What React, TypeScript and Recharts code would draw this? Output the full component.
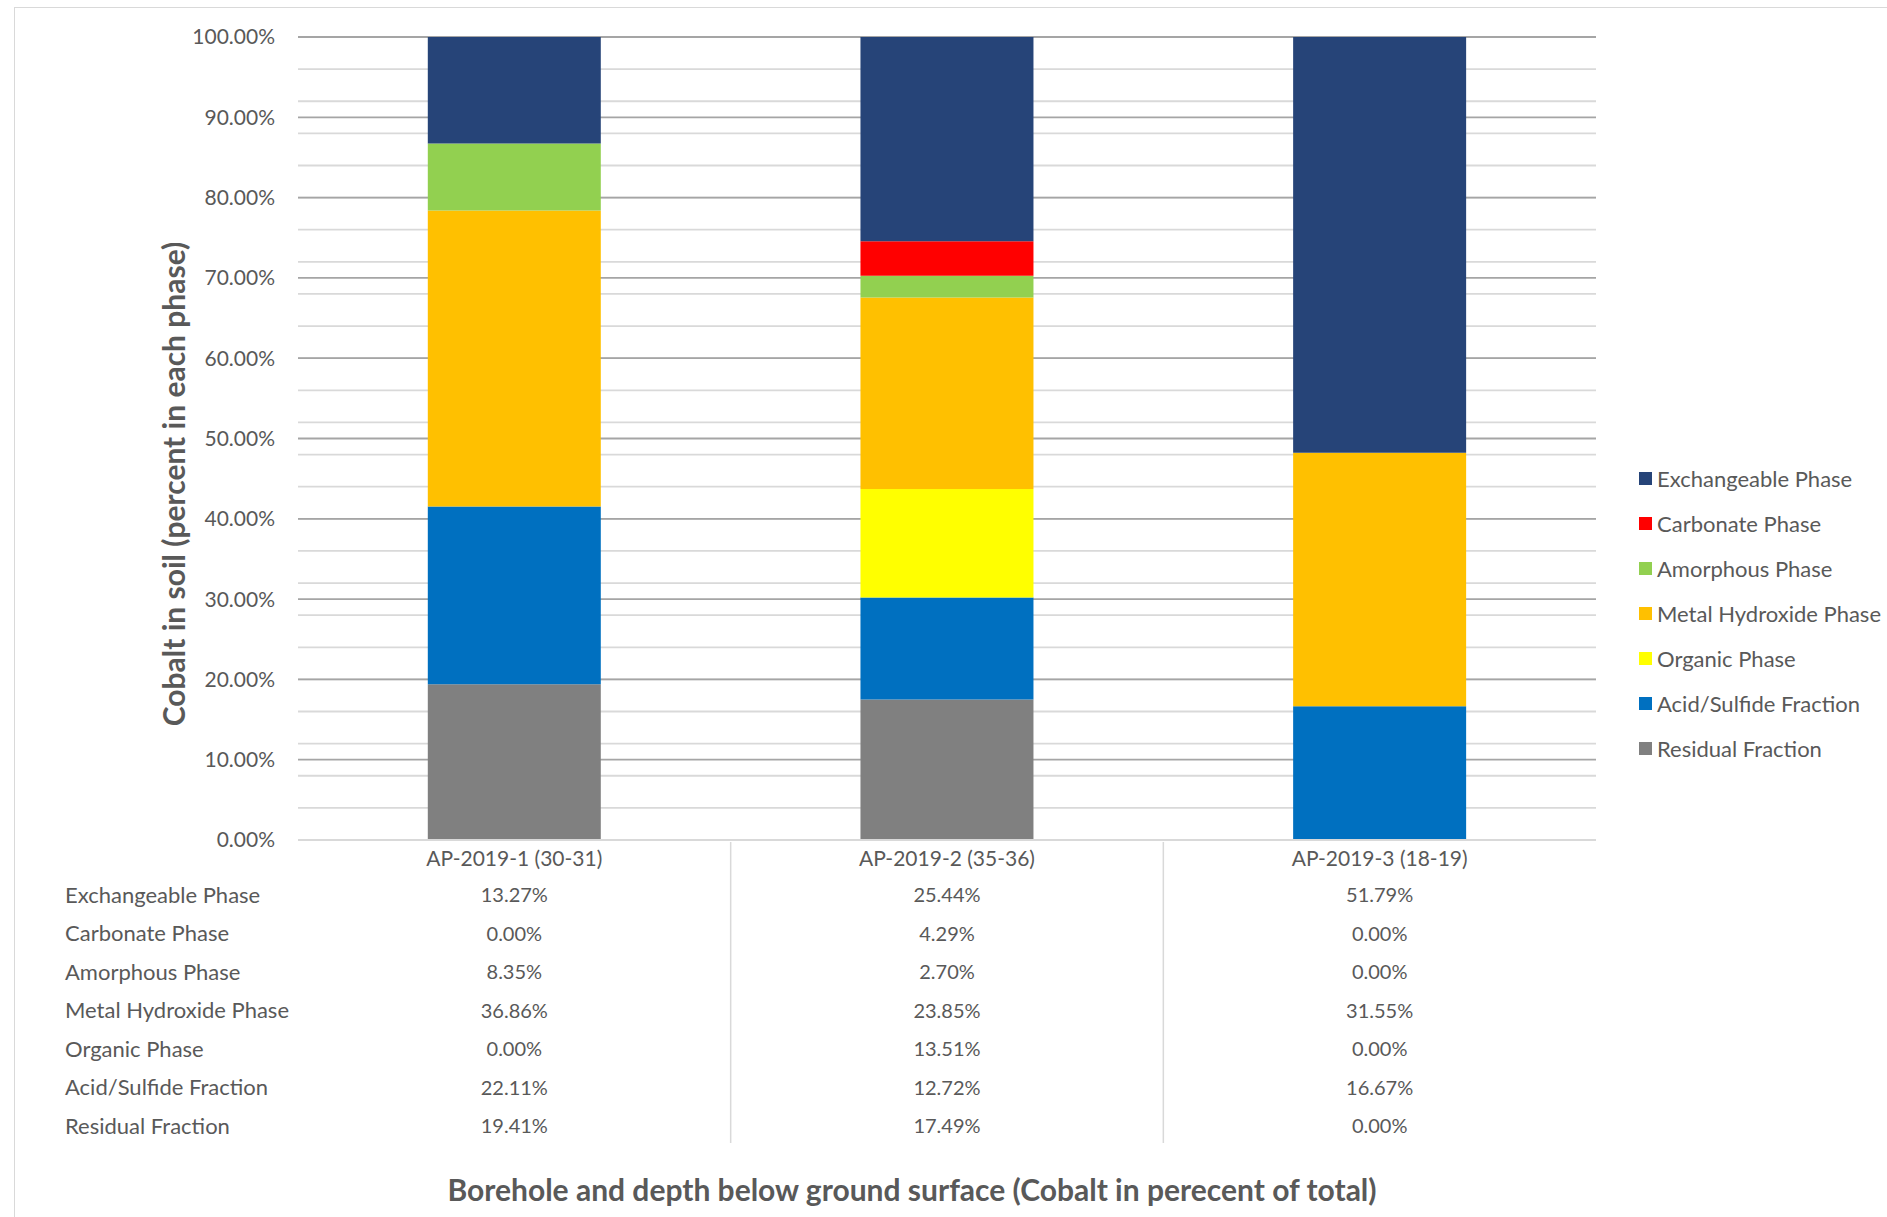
import { BarChart, Bar, XAxis, YAxis, CartesianGrid, Legend } from 'recharts';

const categories = ['AP-2019-1 (30-31)', 'AP-2019-2 (35-36)', 'AP-2019-3 (18-19)'];

const exchangeable = [13.27, 25.44, 51.79];
const carbonate = [0.0, 4.29, 0.0];
const amorphous = [8.35, 2.7, 0.0];
const metalHydroxide = [36.86, 23.85, 31.55];
const organic = [0.0, 13.51, 0.0];
const acidSulfide = [22.11, 12.72, 16.67];
const residual = [19.41, 17.49, 0.0];

const majorTicks = [0, 10, 20, 30, 40, 50, 60, 70, 80, 90, 100];
const minorTicks = [
  0, 2, 4, 6, 8, 10, 12, 14, 16, 18, 20, 22, 24, 26, 28, 30, 32, 34, 36, 38, 40, 42, 44, 46, 48, 50,
  52, 54, 56, 58, 60, 62, 64, 66, 68, 70, 72, 74, 76, 78, 80, 82, 84, 86, 88, 90, 92, 94, 96, 98, 100,
];

// top-to-bottom, as in the legend and the data table
const series = [
  { key: 'exchangeable', name: 'Exchangeable Phase', color: '#264478', values: exchangeable },
  { key: 'carbonate', name: 'Carbonate Phase', color: '#FF0000', values: carbonate },
  { key: 'amorphous', name: 'Amorphous Phase', color: '#92D050', values: amorphous },
  { key: 'metalHydroxide', name: 'Metal Hydroxide Phase', color: '#FFC000', values: metalHydroxide },
  { key: 'organic', name: 'Organic Phase', color: '#FFFF00', values: organic },
  { key: 'acidSulfide', name: 'Acid/Sulfide Fraction', color: '#0070C0', values: acidSulfide },
  { key: 'residual', name: 'Residual Fraction', color: '#808080', values: residual },
];

const data = categories.map((name, i) => {
  const row: Record<string, string | number> = { name };
  series.forEach((s) => {
    row[s.key] = s.values[i];
  });
  return row;
});

const W = 1887;
const H = 1217;
const PLOT_LEFT = 298;
const PLOT_RIGHT = 1596;
const CAT_W = (PLOT_RIGHT - PLOT_LEFT) / categories.length;
const FONT = 'Lato, "Open Sans", sans-serif';
const TEXT = '#595959';

const pct = (v: number) => `${v.toFixed(2)}%`;

function TableTick(props: any) {
  const { x, y, payload, index } = props;
  return (
    <g fontFamily={FONT} fill={TEXT}>
      <text x={x} y={y + 19} dy="0.35em" textAnchor="middle" fontSize={21} fill={TEXT}>
        {payload.value}
      </text>
      {series.map((s, r) => (
        <text
          key={s.key}
          x={x}
          y={y + 55 + r * 38.5}
          dy="0.35em"
          textAnchor="middle"
          fontSize={20}
          fill={TEXT}
        >
          {pct(s.values[index])}
        </text>
      ))}
      {index > 0 && (
        <line x1={x - CAT_W / 2} x2={x - CAT_W / 2} y1={y + 2} y2={y + 303} stroke="#D9D9D9" strokeWidth={1.5} />
      )}
      {index === 0 &&
        series.map((s, r) => (
          <text
            key={s.key + '-label'}
            x={65}
            y={y + 55 + r * 38.5}
            dy="0.35em"
            textAnchor="start"
            fontSize={22}
            fill={TEXT}
          >
            {s.name}
          </text>
        ))}
    </g>
  );
}

function LegendBox() {
  return (
    <div style={{ fontFamily: FONT, fontSize: 22, color: TEXT }}>
      {series.map((s) => (
        <div key={s.key} style={{ height: 45, display: 'flex', alignItems: 'center', whiteSpace: 'nowrap' }}>
          <span style={{ width: 13, height: 13, background: s.color, display: 'inline-block', marginRight: 5 }} />
          <span>{s.name}</span>
        </div>
      ))}
    </div>
  );
}

export default function App() {
  const stackOrder = [...series].reverse();
  return (
    <div style={{ position: 'absolute', left: 0, top: 0, width: W, height: H, overflow: 'hidden', background: '#fff' }}>
      <div
        style={{
          position: 'absolute',
          left: 14,
          top: 7,
          width: W + 100,
          height: H + 100,
          border: '1.5px solid #D9D9D9',
        }}
      />
      <div style={{ position: 'absolute', left: 0, top: 0 }}>
        <BarChart
          width={W}
          height={H}
          data={data}
          margin={{ top: 37, right: W - PLOT_RIGHT, bottom: 37, left: 0 }}
          barCategoryGap="30%"
        >
          <YAxis yAxisId="minor" hide domain={[0, 100]} ticks={minorTicks} allowDataOverflow />
          <CartesianGrid yAxisId="minor" vertical={false} stroke="#D9D9D9" strokeWidth={1.8} />
          <CartesianGrid vertical={false} stroke="#A5A5A5" strokeWidth={1.8} />
          <XAxis
            dataKey="name"
            height={340}
            tickLine={false}
            tickSize={0}
            tickMargin={0}
            interval={0}
            axisLine={{ stroke: '#D9D9D9', strokeWidth: 1.8 }}
            tick={TableTick}
            label={() => (
              <text
                x={912}
                y={1190}
                dy="0.35em"
                textAnchor="middle"
                fontFamily={FONT}
                fontSize={30}
                fontWeight="bold"
                fill={TEXT}
              >
                Borehole and depth below ground surface (Cobalt in perecent of total)
              </text>
            )}
          />
          <YAxis
            width={PLOT_LEFT}
            domain={[0, 100]}
            ticks={majorTicks}
            allowDataOverflow
            axisLine={false}
            tickLine={false}
            tickSize={0}
            tickMargin={23}
            tickFormatter={(v: number) => pct(v)}
            tick={{ fontFamily: FONT, fontSize: 21, fill: TEXT }}
            label={() => (
              <text
                x={174}
                y={484}
                dy="0.35em"
                textAnchor="middle"
                transform="rotate(-90 174 484)"
                fontFamily={FONT}
                fontSize={30}
                fontWeight="bold"
                fill={TEXT}
              >
                Cobalt in soil (percent in each phase)
              </text>
            )}
          />
          {stackOrder.map((s) => (
            <Bar key={s.key} dataKey={s.key} name={s.name} stackId="a" fill={s.color} isAnimationActive={false} />
          ))}
          <Legend
            layout="horizontal"
            align="center"
            verticalAlign="middle"
            content={() => <LegendBox />}
            wrapperStyle={{ position: 'absolute', left: 1639, top: 456, width: 250, height: 320 }}
          />
        </BarChart>
      </div>
    </div>
  );
}
